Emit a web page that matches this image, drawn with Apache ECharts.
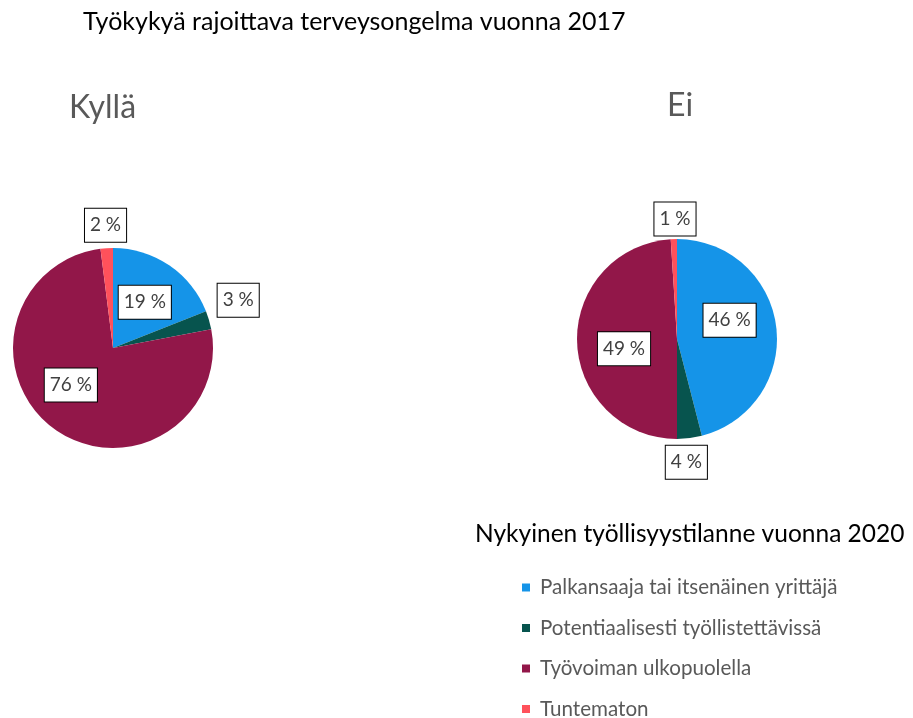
<!DOCTYPE html>
<html>
<head>
<meta charset="utf-8">
<script src="https://cdn.jsdelivr.net/npm/echarts@6/dist/echarts.min.js"></script>
<style>
  html, body { margin: 0; padding: 0; background: #fff; }
  #chart { width: 913px; height: 718px; }
</style>
</head>
<body>
<div id="chart"></div>
<script>
// categories (legend)
const categories = [
    "Palkansaaja tai itsenäinen yrittäjä",
    "Potentiaalisesti työllistettävissä",
    "Työvoiman ulkopuolella",
    "Tuntematon"
];
// % shares
const kyllaValues = [19, 3, 76, 2];
const eiValues = [46, 4, 49, 1];

const colors = ["#1594E8", "#07544E", "#921749", "#FF515B"];
const font = "Lato";

// where each label sits, and a small nudge like Excel's "best fit"
const kyllaLabelPos = ["inside", "outside", "inside", "outside"];
const eiLabelPos = ["inside", "outside", "inside", "outside"];
const kyllaNudge = [[2, -2], [-6, -17], [-11, -6], [25, -13]];
const eiNudge = [[0, -12], [-30, 14], [0, 8], [27, -10]];
const nudges = [kyllaNudge, eiNudge];

function pieData(values, pos) {
    return values.map((v, i) => ({
        name: categories[i],
        value: v,
        label: { position: pos[i] }
    }));
}

function pieSeries(name, center, values, pos) {
    return {
        name: name,
        type: "pie",
        center: center,
        radius: 100,
        startAngle: 90,
        clockwise: true,
        silent: true,
        avoidLabelOverlap: false,
        data: pieData(values, pos),
        label: {
            show: true,
            formatter: "{c} %",
            fontFamily: font,
            fontSize: 19,
            color: "#404040",
            backgroundColor: "#fff",
            borderColor: "#000",
            borderWidth: 1,
            padding: [8, 5, 6, 5]
        },
        labelLine: { show: false, length: 10, length2: 0 },
        labelLayout: function (params) {
            let n = nudges[params.seriesIndex][params.dataIndex];
            return { dx: n[0], dy: n[1] };
        },
        itemStyle: { borderWidth: 0 }
    };
}

let myChart = echarts.init(document.getElementById("chart"));
let option = {
    backgroundColor: "#fff",
    color: colors,
    animation: false,
    title: [
        {
            text: "Työkykyä rajoittava terveysongelma vuonna 2017",
            left: 83, top: 9, padding: 0,
            textStyle: { fontFamily: font, fontSize: 25, fontWeight: "normal", color: "#000" }
        },
        {
            text: "Kyllä",
            left: 69, top: 92, padding: 0,
            textStyle: { fontFamily: font, fontSize: 32, fontWeight: "normal", color: "#595959" }
        },
        {
            text: "Ei",
            left: 667, top: 90, padding: 0,
            textStyle: { fontFamily: font, fontSize: 32, fontWeight: "normal", color: "#595959" }
        },
        {
            text: "Nykyinen työllisyystilanne vuonna 2020",
            left: 475, top: 522, padding: 0,
            textStyle: { fontFamily: font, fontSize: 24.5, fontWeight: "normal", color: "#000" }
        }
    ],
    legend: {
        orient: "vertical",
        left: 522, top: 577, height: 170, padding: 0,
        data: categories,
        selectedMode: false,
        icon: "rect",
        itemWidth: 8, itemHeight: 8,
        itemGap: 19.5,
        textStyle: { fontFamily: font, fontSize: 20.6, color: "#595959", lineHeight: 18, padding: [0, 0, 0, 5] }
    },
    series: [
        pieSeries("Kyllä", [113, 348], kyllaValues, kyllaLabelPos),
        pieSeries("Ei", [677, 339], eiValues, eiLabelPos)
    ]
};
myChart.setOption(option);
</script>
</body>
</html>
